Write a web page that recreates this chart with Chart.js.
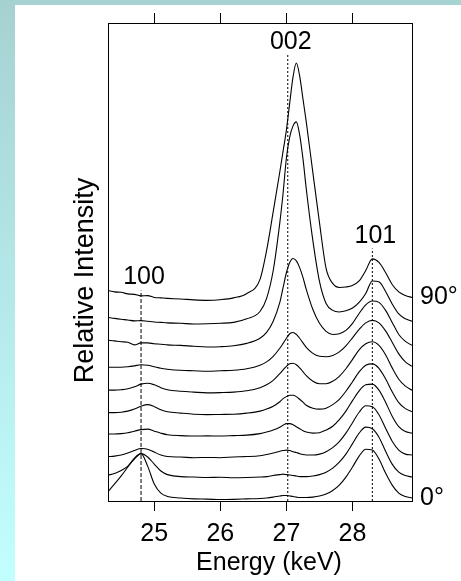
<!DOCTYPE html>
<html>
<head>
<meta charset="utf-8">
<script src="https://cdn.jsdelivr.net/npm/chart.js@4.4.1/dist/chart.umd.min.js"></script>
<style>
  html, body { margin: 0; padding: 0; background: #fff; }
  #wrap { position: relative; width: 461px; height: 581px; overflow: hidden; }
  #topBand { position: absolute; left: 0; top: 0; width: 461px; height: 5px; background: #a8d3d3; }
  #leftBand { position: absolute; left: 0; top: 0; width: 15px; height: 581px; background: linear-gradient(#a6d1d1, #c2ffff); }
  canvas { position: absolute; left: 0; top: 0; }
</style>
</head>
<body>
<div id="wrap">
  <div id="topBand"></div>
  <div id="leftBand"></div>
  <canvas id="spectra" width="461" height="581"></canvas>
</div>
<script>
// Energy axis (keV)
const energies = [24.3, 24.4, 24.5, 24.6, 24.7, 24.8, 24.9, 25.0, 25.1, 25.2,
  25.4, 25.6, 25.8, 26.0, 26.2, 26.4, 26.6, 26.7, 26.8, 26.9,
  26.95, 27.0, 27.05, 27.1, 27.15, 27.2, 27.25, 27.3,
  27.4, 27.5, 27.6, 27.7, 27.8, 27.9, 28.0, 28.1, 28.2, 28.3, 28.4, 28.5, 28.6, 28.7, 28.8, 28.9];
const xTicks = [25, 26, 27, 28];

// tilt angles (deg) and vertical offset of each trace
const angles = [0, 10, 20, 30, 40, 50, 60, 70, 80, 90];
const curveOffsets = [0, 1, 2, 3, 4, 5, 6, 7, 8, 9];
const angleTickIdx = [0, 9];

// relative intensity of each trace (before offset)
const int0 = [0.29, 0.63, 0.99, 1.39, 1.79, 1.99, 1.43, 0.63, 0.22, 0.07, 0.00, -0.04, -0.05, -0.07, -0.06, -0.04, -0.02, 0.00, 0.04, 0.09, 0.11, 0.11, 0.09, 0.07, 0.04, 0.02, 0.02, 0.02, 0.04, 0.09, 0.18, 0.34, 0.58, 0.94, 1.39, 1.88, 2.19, 2.15, 1.75, 1.12, 0.58, 0.22, 0.07, 0.00];
const int10 = [0.03, 0.10, 0.23, 0.43, 0.75, 0.99, 0.84, 0.52, 0.21, 0.05, -0.04, -0.06, -0.08, -0.07, -0.09, -0.08, -0.06, -0.04, 0.01, 0.05, 0.07, 0.05, 0.03, 0.01, -0.01, -0.04, -0.04, -0.04, -0.01, 0.05, 0.16, 0.34, 0.61, 0.97, 1.44, 1.91, 2.18, 2.11, 1.73, 1.10, 0.52, 0.16, 0.01, -0.06];
const int20 = [-0.14, -0.12, -0.07, 0.02, 0.13, 0.22, 0.19, 0.06, -0.07, -0.14, -0.16, -0.19, -0.18, -0.19, -0.16, -0.14, -0.10, -0.05, 0.02, 0.10, 0.13, 0.15, 0.13, 0.08, 0.04, -0.01, -0.05, -0.07, -0.07, -0.03, 0.08, 0.26, 0.53, 0.91, 1.38, 1.85, 2.14, 2.10, 1.74, 1.13, 0.55, 0.15, -0.03, -0.07];
const int30 = [-0.13, -0.13, -0.11, -0.07, 0.00, 0.07, 0.09, 0.00, -0.09, -0.16, -0.20, -0.22, -0.21, -0.22, -0.20, -0.18, -0.11, -0.04, 0.05, 0.18, 0.27, 0.34, 0.34, 0.29, 0.20, 0.11, 0.02, -0.04, -0.09, -0.07, 0.05, 0.22, 0.52, 0.90, 1.37, 1.81, 2.08, 2.11, 1.84, 1.30, 0.67, 0.20, -0.02, -0.09];
const int40 = [-0.17, -0.17, -0.15, -0.10, -0.01, 0.12, 0.19, 0.10, -0.04, -0.13, -0.19, -0.24, -0.26, -0.25, -0.24, -0.19, -0.10, -0.01, 0.12, 0.32, 0.46, 0.55, 0.61, 0.61, 0.55, 0.43, 0.30, 0.16, 0.03, -0.01, 0.03, 0.19, 0.43, 0.79, 1.22, 1.66, 1.96, 2.02, 1.82, 1.35, 0.77, 0.28, 0.01, -0.13];
const int50 = [-0.16, -0.16, -0.14, -0.10, -0.01, 0.11, 0.15, 0.08, -0.05, -0.14, -0.21, -0.25, -0.28, -0.27, -0.25, -0.19, -0.05, 0.08, 0.28, 0.58, 0.75, 0.91, 1.02, 1.05, 0.98, 0.84, 0.67, 0.49, 0.24, 0.13, 0.13, 0.24, 0.46, 0.80, 1.22, 1.65, 1.92, 2.01, 1.85, 1.43, 0.84, 0.33, 0.02, -0.16];
const int60 = [-0.13, -0.13, -0.13, -0.11, -0.07, -0.02, -0.04, -0.11, -0.18, -0.22, -0.27, -0.29, -0.31, -0.29, -0.27, -0.20, -0.04, 0.11, 0.36, 0.72, 0.94, 1.17, 1.37, 1.43, 1.34, 1.17, 0.96, 0.76, 0.49, 0.36, 0.34, 0.40, 0.56, 0.83, 1.19, 1.57, 1.86, 1.97, 1.86, 1.50, 0.99, 0.47, 0.11, -0.09];
const int70 = [0.08, 0.05, 0.01, -0.01, -0.13, -0.04, -0.04, -0.08, -0.10, -0.13, -0.15, -0.19, -0.22, -0.21, -0.17, -0.06, 0.17, 0.43, 0.93, 1.78, 2.45, 3.12, 3.57, 3.75, 3.64, 3.34, 2.90, 2.36, 1.46, 0.84, 0.48, 0.34, 0.37, 0.52, 0.84, 1.28, 1.67, 1.84, 1.78, 1.42, 0.88, 0.34, 0.03, -0.15];
const int80 = [0.11, 0.06, 0.02, -0.01, -0.05, -0.04, -0.07, -0.10, -0.12, -0.14, -0.16, -0.19, -0.18, -0.16, -0.12, 0.04, 0.37, 0.96, 2.21, 4.36, 5.70, 7.27, 8.21, 8.70, 8.88, 8.30, 7.23, 5.88, 3.55, 1.72, 0.73, 0.42, 0.35, 0.40, 0.53, 0.78, 1.18, 1.74, 1.70, 1.27, 0.71, 0.26, 0.04, -0.07];
const int90 = [0.31, 0.25, 0.23, 0.16, 0.14, 0.07, 0.08, 0.00, -0.02, -0.04, -0.07, -0.11, -0.13, -0.10, -0.02, 0.18, 0.81, 2.11, 3.85, 5.64, 6.58, 7.52, 8.73, 9.90, 10.52, 9.94, 8.91, 7.88, 5.60, 3.36, 1.30, 0.63, 0.45, 0.47, 0.54, 0.74, 1.21, 1.73, 1.57, 1.12, 0.58, 0.25, 0.09, 0.00];
const intensities = [int0, int10, int20, int30, int40, int50, int60, int70, int80, int90];

// reflections: label, energy of the marker line, top of the marker line
const peakNames = ['100', '002', '101'];
const peakEnergies = [24.8, 27.02, 28.3];
const peakTops = [9.31, 19.93, 11.2];

const xMin = 24.3, xMax = 28.9;
const yMin = -0.134, yMax = 21.316;
const FONT = '"Liberation Sans", Arial, Helvetica, sans-serif';

// Labels and axis titles
const textPlugin = {
    id: 'textLabels',
    afterDraw: function (chart) {
        const ctx = chart.ctx;
        const xs = chart.scales.x, ys = chart.scales.y;
        const area = chart.chartArea;
        ctx.save();
        ctx.fillStyle = '#000';
        ctx.textAlign = 'center';
        ctx.textBaseline = 'alphabetic';
        ctx.font = '25px ' + FONT;
        peakNames.forEach(function (name, i) {
            // the 100 label sits a little higher above its line
            const lift = i === 0 ? 7 : 5;
            ctx.fillText(name, xs.getPixelForValue(peakEnergies[i]) + 3, ys.getPixelForValue(peakTops[i]) - lift);
        });
        ctx.fillText('Energy (keV)', area.left + 161, area.bottom + 69);
        ctx.translate(area.left - 15.5, (area.top + area.bottom) / 2 + 18.5);
        ctx.rotate(-Math.PI / 2);
        ctx.font = '27px ' + FONT;
        ctx.fillText('Relative Intensity', 0, 0);
        ctx.restore();
    }
};

const curveSets = intensities.map(function (vals, i) {
    return {
        label: angles[i] + '°',
        data: vals.map(function (v, j) { return { x: energies[j], y: v + curveOffsets[i] }; }),
        borderColor: '#000',
        borderWidth: 1.1,
        pointRadius: 0,
        fill: false,
        cubicInterpolationMode: 'monotone'
    };
});

const markerSets = peakNames.map(function (name, i) {
    return {
        label: name,
        data: [{ x: peakEnergies[i], y: yMin }, { x: peakEnergies[i], y: peakTops[i] }],
        borderColor: '#000',
        borderWidth: 1,
        borderDash: i === 0 ? [4, 2] : [2, 2],
        pointRadius: 0,
        fill: false
    };
});

const axisGrid = { drawOnChartArea: false, drawTicks: true, tickLength: 10, color: '#000', lineWidth: 1 };
const axisBorder = { display: true, color: '#000', width: 1 };

new Chart(document.getElementById('spectra'), {
    type: 'line',
    data: { datasets: curveSets.concat(markerSets) },
    options: {
        responsive: false,
        animation: false,
        devicePixelRatio: 1,
        layout: { padding: 0 },
        plugins: { legend: { display: false }, tooltip: { enabled: false } },
        scales: {
            x: {
                type: 'linear', position: 'bottom', min: xMin, max: xMax,
                afterBuildTicks: function (s) { s.ticks = xTicks.map(function (v) { return { value: v }; }); },
                afterFit: function (s) { s.height = 80; },
                grid: axisGrid, border: axisBorder,
                ticks: { color: '#000', font: { family: FONT, size: 25 }, padding: 8, maxRotation: 0 }
            },
            xTop: {
                type: 'linear', position: 'top', min: xMin, max: xMax,
                afterBuildTicks: function (s) { s.ticks = xTicks.map(function (v) { return { value: v }; }); },
                afterFit: function (s) { s.height = 22; },
                grid: axisGrid, border: axisBorder,
                ticks: { display: false }
            },
            y: {
                type: 'linear', position: 'left', min: yMin, max: yMax,
                afterFit: function (s) { s.width = 108; },
                grid: { display: false, drawTicks: false }, border: axisBorder,
                ticks: { display: false }
            },
            yRight: {
                type: 'linear', position: 'right', min: yMin, max: yMax,
                afterBuildTicks: function (s) { s.ticks = angleTickIdx.map(function (i) { return { value: curveOffsets[i] }; }); },
                afterFit: function (s) { s.width = 49; },
                grid: { display: false, drawTicks: false }, border: axisBorder,
                ticks: {
                    color: '#000', font: { family: FONT, size: 25 }, padding: 8,
                    callback: function (value) { return angles[curveOffsets.indexOf(value)] + '°'; }
                }
            }
        }
    },
    plugins: [textPlugin]
});
</script>
</body>
</html>
